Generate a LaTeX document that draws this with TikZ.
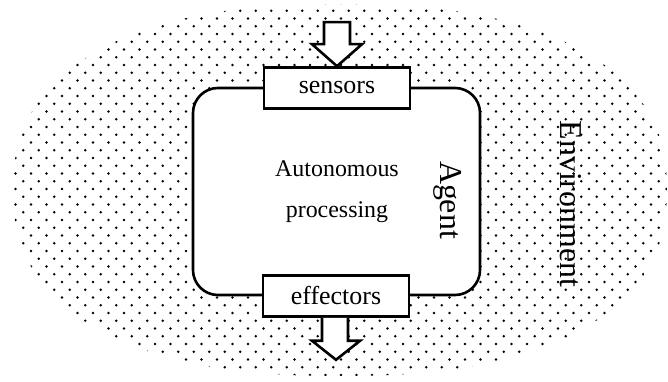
\documentclass[tikz,border=0pt]{standalone}
\usepackage{fontspec}
\setmainfont{Liberation Serif}
\usetikzlibrary{calc}

\begin{document}
\begin{tikzpicture}
[x=0.5bp,y=-0.5bp,line join=miter,
 box/.style={draw,line width=1.3bp,fill=white,minimum width=73bp,minimum height=20.5bp,inner sep=0pt,font=\fontsize{13}{15}\selectfont},
 fatarrow/.style={draw,line width=1.3bp,fill=white},
 big/.style={font=\fontsize{16}{18}\selectfont,rotate=-90}]
\useasboundingbox (0,0) rectangle (668,382);
% dotted environment
\begin{scope}
\clip plot[domain=0.5:360.5,samples=73,smooth cycle]
  ({340+327*cos(\x)*pow(abs(cos(\x)),-0.15)},{190+186*sin(\x)*pow(abs(sin(\x)),-0.15)});
\foreach \r in {0,...,49}{
  \pgfmathsetmacro\shift{mod(\r,2)*7.75}
  \foreach \c in {0,...,43}
    \fill[black] (\c*15.5+\shift,\r*7.75+3) circle[radius=0.65bp];
}
\end{scope}
% agent
\node[draw,line width=1.3bp,fill=white,rounded corners=12.5bp,minimum width=143.5bp,minimum height=103.5bp] (agent) at (336.5,191.5) {};
\node[box] (sensors) at (337,88) {sensors};
\node[box] (effectors) at (336,296) {effectors};
\node[align=center,font=\fontsize{12}{20.5}\selectfont] (proc) at (337,192) {Autonomous\\processing};
\node[big] (agentlabel) at (448,200) {Agent};
\node[big] (env) at (571,204) {Environment};
% arrows
\draw[fatarrow] (sensors.north) -- ++(25,-22) -- ++(-12,0) -- ++(0,-22) -- ++(-26,0) -- ++(0,22) -- ++(-12,0) -- cycle;
\coordinate (outtip) at ($(effectors.south)+(0,42)$);
\draw[fatarrow] ($(effectors.south)+(-14,0)$) -- ++(0,23) -- ++(-10,0) -- (outtip) -- ++(24,-19) -- ++(-12,0) -- ++(0,-23);
\end{tikzpicture}
\end{document}
